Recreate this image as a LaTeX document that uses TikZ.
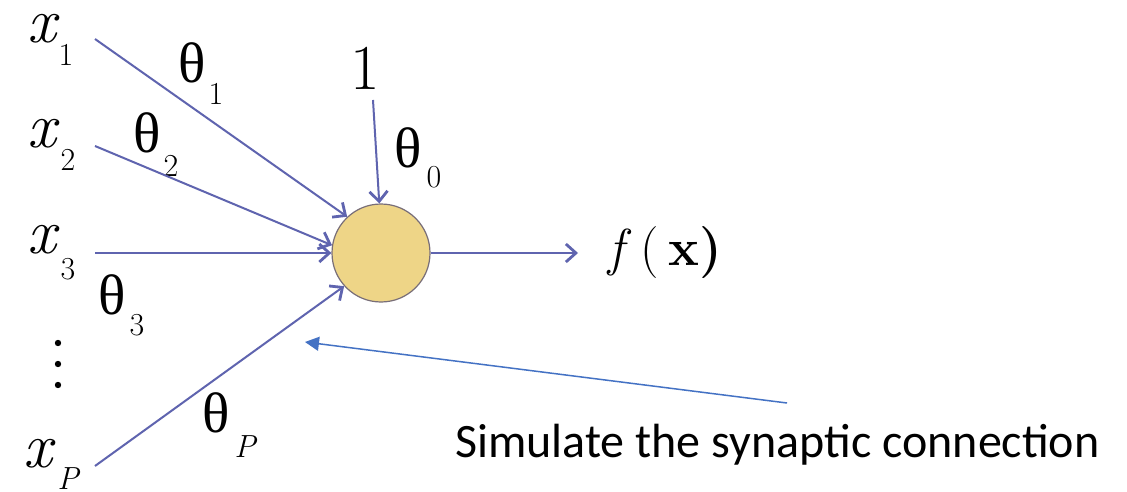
\documentclass[tikz,border=0pt]{standalone}
\usepackage{fontspec}
\usetikzlibrary{arrows.meta}
\newfontfamily\grk{Liberation Serif}
\newfontfamily\calibrifont{Carlito}
\definecolor{edgec}{RGB}{95,100,175}
\definecolor{circf}{RGB}{238,213,135}
\definecolor{circb}{RGB}{120,110,120}
\definecolor{bluec}{RGB}{68,114,196}
\tikzset{
  sym/.style={inner sep=0, font=\fontsize{64}{70}\selectfont},
  subs/.style={inner sep=0, font=\fontsize{32}{36}\selectfont},
  th/.style={inner sep=0, font=\grk\fontsize{57}{62}\selectfont},
  wedge/.style={draw=edgec, line width=2, -{Straight Barb[length=10,width=18,line width=2.8]}},
}
\begin{document}
\begin{tikzpicture}[x=1pt,y=-1pt]
\useasboundingbox (0,0) rectangle (1127,492);
\fill[white] (0,0) rectangle (1127,492);
% neuron
\node[circle, minimum size=98, draw=circb, fill=circf, line width=1.2, inner sep=0] (n) at (381,253) {};
% inputs
\node[sym] (x1) at (42,29) {\itshape x};
\node[subs] (x1s) at (66,55) {1};
\node[sym] (x2) at (42,134) {\itshape x};
\node[subs] (x2s) at (68,160) {2};
\node[sym] (x3) at (42,240) {\itshape x};
\node[subs] (x3s) at (68,269) {3};
\fill (58,343) circle (3.2) (58,364) circle (3.2) (58,385) circle (3.2);
\node[sym] (xP) at (38,454) {\itshape x};
\node[subs] (xPs) at (68,479) {\itshape P};
\node[sym] (one) at (365,68) {1};
% weights
\node[th] (t1) at (192,63) {θ};
\node[subs] (t1s) at (216,94) {1};
\node[th] (t2) at (147,133) {θ};
\node[subs] (t2s) at (171,166) {2};
\node[th] (t0) at (408,148) {θ};
\node[subs] (t0s) at (434,177) {0};
\node[th] (t3) at (112,295) {θ};
\node[subs] (t3s) at (137,325) {3};
\node[th] (tP) at (216,413) {θ};
\node[subs] (tPs) at (245,447) {\itshape P};
% output
\node[inner sep=0, font=\fontsize{52}{60}\selectfont] (fx) at (665,253) {\itshape f\hspace{17pt}\upshape(\hspace{9pt}\bfseries x)};
% start points
\coordinate (s1) at (95,39);
\coordinate (s2) at (95,146);
\coordinate (s3) at (95,253);
\coordinate (sP) at (95,466);
\coordinate (s0) at (373,100);
\coordinate (o) at (578,253);
\draw[wedge] (s1) -- (n.133);
\draw[wedge] (s2) -- (n.171);
\draw[wedge] (s3) -- (n.180);
\draw[wedge] (sP) -- (n.222);
\draw[wedge] (s0) -- (n.92);
\draw[wedge] (n.0) -- (o);
% annotation
\node[font=\calibrifont\fontsize{48}{56}\selectfont, inner sep=0, anchor=west] (lab) at (455,445) {Simulate the synaptic connection};
\coordinate (b1) at (787,403);
\coordinate (b2) at (305,342);
\draw[draw=bluec, line width=1.5, -{Triangle[length=14,width=14]}, fill=bluec] (b1) -- (b2);
\end{tikzpicture}
\end{document}
